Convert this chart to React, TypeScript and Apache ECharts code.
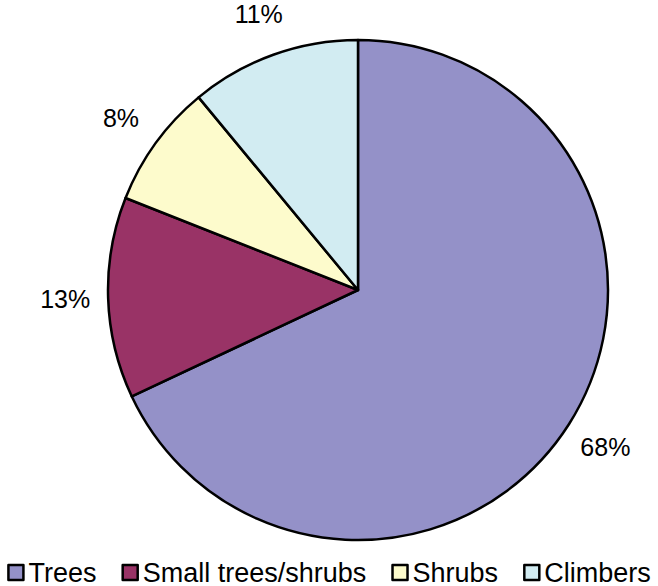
import React, { useEffect, useRef } from "react";
import * as echarts from "echarts";

const categories = ["Trees", "Small trees/shrubs", "Shrubs", "Climbers"];
const values = [68, 13, 8, 11];
const colors = ["#9491c8", "#993366", "#fdfbcc", "#d2ecf2"];

export default function App() {
  const ref = useRef<HTMLDivElement>(null);
  useEffect(() => {
    if (!ref.current) return;
    const chart = echarts.init(ref.current, null, { renderer: "svg" });
    const data = categories.map((name, i) => ({
      name,
      value: values[i],
      itemStyle: { color: colors[i] },
    }));
    chart.setOption({
      animation: false,
      textStyle: { fontFamily: "Liberation Sans, Arial, sans-serif" },
      legend: {
        data: categories,
        left: "center",
        top: 559,
        padding: 0,
        icon: "rect",
        itemWidth: 15,
        itemHeight: 15,
        itemGap: 25,
        itemStyle: { borderColor: "#000", borderWidth: 2.5 },
        textStyle: { fontSize: 27, color: "#000", fontFamily: "Liberation Sans, Arial, sans-serif" },
      },
      series: [
        {
          type: "pie",
          center: [358, 290],
          radius: [0, 250],
          startAngle: 90,
          clockwise: true,
          data,
          itemStyle: { borderColor: "#000", borderWidth: 2.5 },
          label: { show: false },
          labelLine: { show: false },
          emphasis: { disabled: true },
        },
        {
          type: "pie",
          center: [358, 290],
          radius: [280, 300],
          startAngle: 90,
          clockwise: true,
          silent: true,
          legendHoverLink: false,
          data: categories.map((name, i) => ({ name, value: values[i] })),
          itemStyle: { color: "transparent", borderWidth: 0 },
          label: {
            show: true,
            position: "inside",
            formatter: "{c}%",
            fontSize: 25,
            color: "#000",
            fontFamily: "Liberation Sans, Arial, sans-serif",
          },
          labelLine: { show: false },
          emphasis: { disabled: true },
        },
      ],
    });
    return () => chart.dispose();
  }, []);
  return (
    <div
      ref={ref}
      style={{ position: "fixed", left: 0, top: 0, width: 658, height: 586, background: "#fff" }}
    />
  );
}
